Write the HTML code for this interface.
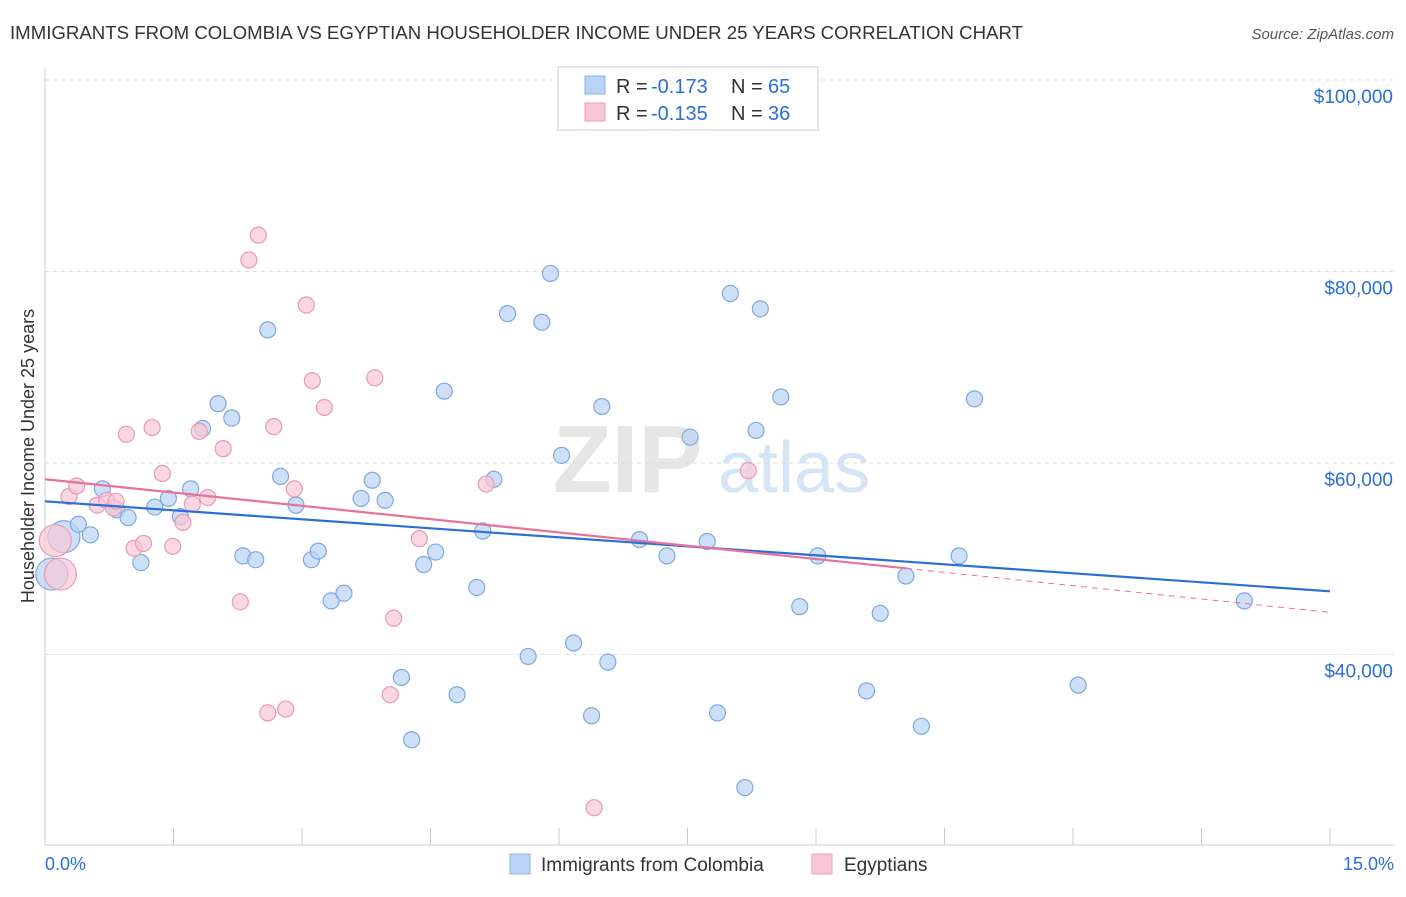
<!DOCTYPE html>
<html><head><meta charset="utf-8"><style>
body{margin:0;background:#fff;font-family:"Liberation Sans",sans-serif}
svg text{font-family:"Liberation Sans",sans-serif}
</style></head><body>
<svg id="c" width="1406" height="892">
<text x="10" y="39" font-size="18" fill="#333" textLength="1013" lengthAdjust="spacingAndGlyphs">IMMIGRANTS FROM COLOMBIA VS EGYPTIAN HOUSEHOLDER INCOME UNDER 25 YEARS CORRELATION CHART</text>
<text x="1394" y="39" font-size="15" fill="#555" font-style="italic" text-anchor="end">Source: ZipAtlas.com</text>
<text x="553" y="492" font-size="96" fill="#e6e6e6" font-family="Liberation Serif" font-weight="bold">ZIP</text>
<text x="718" y="492" font-size="72" fill="#d6e4f5">atlas</text>
<text transform="translate(34,456) rotate(-90)" font-size="18" fill="#333" text-anchor="middle">Householder Income Under 25 years</text>
<g id="grid"></g><g id="pts"></g><g id="lines"></g>
<g>
<rect x="558" y="67" width="260" height="63" fill="#fff" stroke="#ccc"/>
<rect x="585" y="76" width="20" height="18" fill="#b8d3f5" stroke="#8ab0e3"/>
<rect x="585" y="103" width="20" height="18" fill="#f8c6d6" stroke="#eda0b8"/>
<text y="93" font-size="20" fill="#333"><tspan x="616">R = </tspan><tspan x="651" fill="#2a6fd6">-0.173</tspan><tspan x="731">N = </tspan><tspan x="768" fill="#2a6fd6">65</tspan></text>
<text y="120" font-size="20" fill="#333"><tspan x="616">R = </tspan><tspan x="651" fill="#2a6fd6">-0.135</tspan><tspan x="731">N = </tspan><tspan x="768" fill="#2a6fd6">36</tspan></text>
</g>
<g>
<rect x="510" y="854" width="20" height="20" fill="#b8d3f5" stroke="#8ab0e3"/>
<text x="541" y="871" font-size="19" fill="#333">Immigrants from Colombia</text>
<rect x="812" y="854" width="20" height="20" fill="#f8c6d6" stroke="#eda0b8"/>
<text x="844" y="871" font-size="19" fill="#333">Egyptians</text>
</g>
<text x="45" y="870" font-size="18" fill="#2a6fd6">0.0%</text>
<text x="1394" y="870" font-size="18" fill="#2a6fd6" text-anchor="end">15.0%</text>
</svg>
<script>
const yTicks=[100000,80000,60000,40000];
const yTickLabels=["$100,000","$80,000","$60,000","$40,000"];
const xTicks=[0,1.5,3,4.5,6,7.5,9,10.5,12,13.5,15];
const blueX=[0.08,0.22,0.39,0.53,0.67,0.84,0.97,1.12,1.28,1.44,1.58,1.70,1.84,2.02,2.18,2.31,2.46,2.60,2.75,2.93,3.11,3.19,3.34,3.49,3.69,3.82,3.97,4.16,4.28,4.42,4.56,4.66,4.81,5.04,5.11,5.24,5.40,5.64,5.80,5.90,6.03,6.17,6.38,6.50,6.57,6.94,7.26,7.53,7.73,7.85,8.00,8.17,8.30,8.35,8.59,8.81,9.02,9.59,9.75,10.05,10.23,10.67,10.85,12.06,14.00];
const blueY=[48400,52300,53600,52500,57300,55100,54300,49600,55400,56300,54400,57300,63600,66200,64700,50300,49900,73900,58600,55600,49900,50800,45600,46400,56300,58200,56100,37600,31100,49400,50700,67500,35800,47000,52900,58300,75600,39800,74700,79800,60800,41200,33600,65900,39200,52000,50300,62700,51800,33900,77700,26100,63400,76100,66900,45000,50300,36200,44300,48200,32500,50300,66700,36800,45600];
const pinkX=[0.12,0.18,0.28,0.37,0.61,0.72,0.80,0.83,0.95,1.04,1.15,1.25,1.37,1.49,1.61,1.72,1.80,1.90,2.08,2.28,2.38,2.49,2.60,2.67,2.81,2.91,3.05,3.12,3.26,3.85,4.03,4.07,4.37,5.15,6.41,8.21];
const pinkY=[51900,48400,56500,57600,55600,56100,55300,56000,63000,51100,51600,63700,58900,51300,53800,55700,63300,56400,61500,45500,81200,83800,33900,63800,34300,57300,76500,68600,65800,68900,35800,43800,52100,57800,24000,59200];
const X=v=>45+v/15*1285, Y=v=>80+(100000-v)*0.009575;
const NS="http://www.w3.org/2000/svg";
function mk(t,a,p){const e=document.createElementNS(NS,t);for(const k in a)e.setAttribute(k,a[k]);p.appendChild(e);return e;}
const g=document.getElementById('grid');
mk('line',{x1:45,y1:68,x2:45,y2:845,stroke:'#ccc'},g);
mk('line',{x1:45,y1:845,x2:1394,y2:845,stroke:'#ccc'},g);
yTicks.forEach((v,i)=>{
 const l=mk('line',{x1:45,y1:Y(v),x2:1394,y2:Y(v),stroke:'#ddd','stroke-dasharray':'4,4'},g);
 
 
 const t=mk('text',{x:1393,y:Y(v)+23,'font-size':19,fill:'#2a6fd6','text-anchor':'end'},g);
 t.textContent=yTickLabels[i];
 
 
});
xTicks.forEach(v=>{
 const l=mk('line',{x1:X(v),y1:828,x2:X(v),y2:845,stroke:'#ccc'},g);
 
 
});
const p=document.getElementById('pts');
function dots(xs,ys,fill,stroke,name,big){
 xs.forEach((x,i)=>{
  const c=mk('circle',{cx:X(x),cy:Y(ys[i]),r:big.includes(i)?16:8,fill:fill,'fill-opacity':0.7,stroke:stroke,'stroke-width':1.2},p);
  
  
 });
}
dots(blueX,blueY,'#b8d3f5','#7fa8df','colombia-point',[0,1]);
dots(pinkX,pinkY,'#f8c6d6','#e99ab4','egyptian-point',[0,1]);
const L=document.getElementById('lines');
const bl=mk('line',{x1:X(0),y1:Y(56000),x2:X(15),y2:Y(46600),stroke:'#2a6fd6','stroke-width':2.2},L);


const pl=mk('line',{x1:X(0),y1:Y(58300),x2:X(10.05),y2:Y(49000),stroke:'#e8729a','stroke-width':2.2},L);


const pd=mk('line',{x1:X(10.05),y1:Y(49000),x2:X(15),y2:Y(44400),stroke:'#e8729a','stroke-width':1,'stroke-dasharray':'6,5'},L);


</script>
</body></html>
